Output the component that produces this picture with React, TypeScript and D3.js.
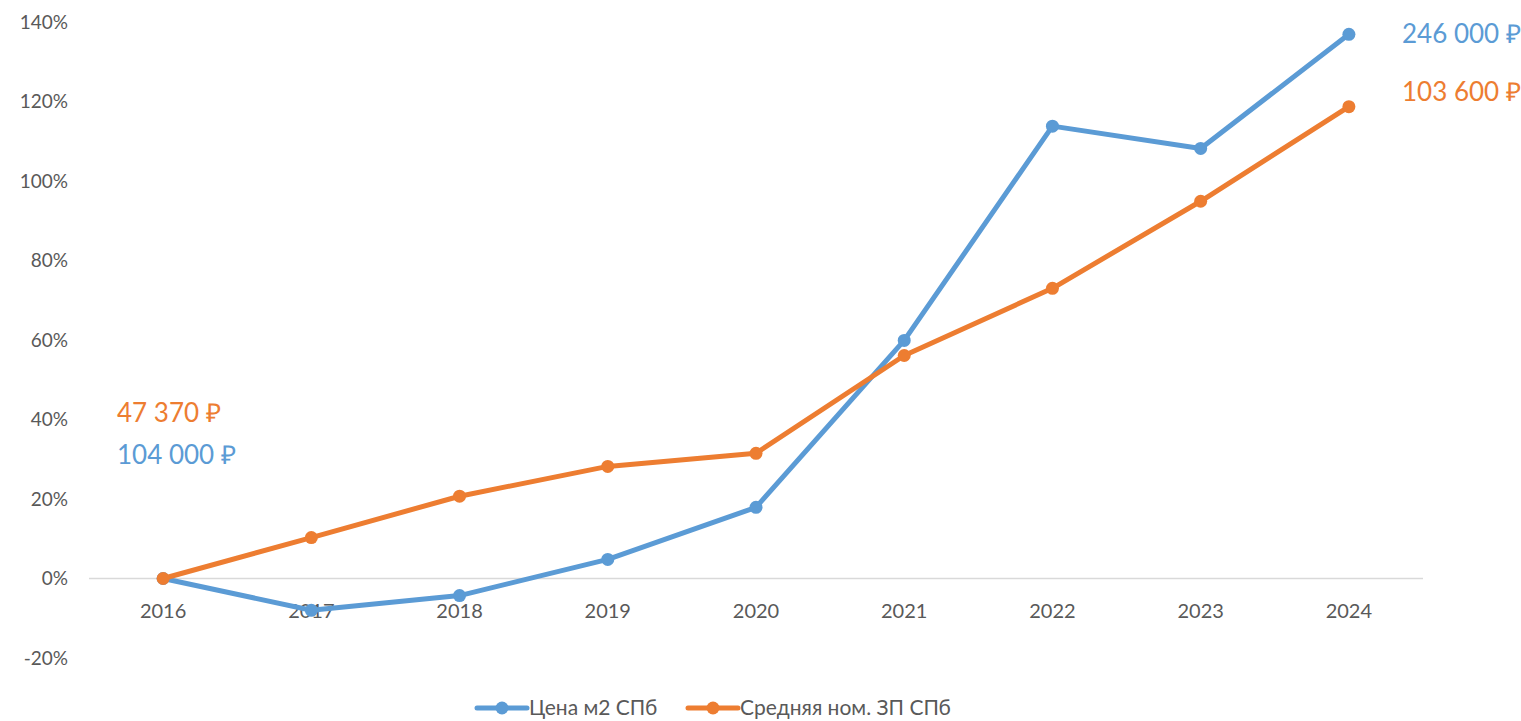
import React, { useRef, useEffect } from 'react';
import * as d3 from 'd3';

const years = ['2016', '2017', '2018', '2019', '2020', '2021', '2022', '2023', '2024'];
const priceGrowth = [0, -8.0, -4.3, 4.8, 17.9, 59.9, 113.8, 108.2, 136.9];
const salaryGrowth = [0, 10.3, 20.7, 28.2, 31.5, 56.1, 73.0, 94.9, 118.7];
const yTicks = [-20, 0, 20, 40, 60, 80, 100, 120, 140];
const seriesNames = ['Цена м2 СПб', 'Средняя ном. ЗП СПб'];
const colors = ['#5b9bd5', '#ed7d31'];
const startLabels = ['104 000 ₽', '47 370 ₽'];
const endLabels = ['246 000 ₽', '103 600 ₽'];

const W = 1521;
const H = 721;
const font = 'Lato, "Open Sans", sans-serif';

const App: React.FC = () => {
  const svgRef = useRef<SVGSVGElement | null>(null);

  useEffect(() => {
    const svg = d3.select(svgRef.current);
    svg.selectAll('*').remove();

    const x = d3.scaleBand<string>().domain(years).range([89, 1423]);
    const y = d3.scaleLinear().domain([-20, 140]).range([658, 22]);
    const cx = (d: string) => (x(d) as number) + x.bandwidth() / 2;

    // y tick labels
    svg.append('g')
      .selectAll('text')
      .data(yTicks)
      .join('text')
      .attr('x', 68)
      .attr('y', d => y(d))
      .attr('dy', '0.35em')
      .attr('text-anchor', 'end')
      .style('font-family', font)
      .style('font-size', '19px')
      .style('fill', '#595959')
      .text(d => `${d}%`);

    // zero line
    svg.append('line')
      .attr('x1', 89).attr('x2', 1423)
      .attr('y1', y(0)).attr('y2', y(0))
      .style('stroke', '#d9d9d9')
      .style('stroke-width', 1.5);

    // x labels
    svg.append('g')
      .selectAll('text')
      .data(years)
      .join('text')
      .attr('x', d => cx(d))
      .attr('y', y(0) + 32)
      .attr('dy', '0.35em')
      .attr('text-anchor', 'middle')
      .style('font-family', font)
      .style('font-size', '20px')
      .style('fill', '#595959')
      .text(d => d);

    const line = d3.line<number>()
      .x((_, i) => cx(years[i]))
      .y(d => y(d));

    [priceGrowth, salaryGrowth].forEach((s, k) => {
      svg.append('path')
        .datum(s)
        .attr('d', line)
        .style('fill', 'none')
        .style('stroke', colors[k])
        .style('stroke-width', 5)
        .style('stroke-linejoin', 'round')
        .style('stroke-linecap', 'round');
      svg.append('g')
        .selectAll('circle')
        .data(s)
        .join('circle')
        .attr('cx', (_, i) => cx(years[i]))
        .attr('cy', d => y(d))
        .attr('r', 6.5)
        .style('fill', colors[k]);
    });

    // value annotations
    const ann = (txt: string, ax: number, ay: number, c: string) =>
      svg.append('text')
        .attr('x', ax).attr('y', ay).attr('dy', '0.35em')
        .style('font-family', font)
        .style('font-size', '26px')
        .style('fill', c)
        .text(txt);
    ann(endLabels[0], 1402, 34, colors[0]);
    ann(endLabels[1], 1402, 92, colors[1]);
    ann(startLabels[1], 117, 413, colors[1]);
    ann(startLabels[0], 117, 455, colors[0]);

    // legend
    const legendX = [477, 688];
    seriesNames.forEach((n, k) => {
      const g = svg.append('g').attr('transform', `translate(${legendX[k]},708)`);
      g.append('line')
        .attr('x1', 0).attr('x2', 50).attr('y1', 0).attr('y2', 0)
        .style('stroke', colors[k]).style('stroke-width', 5)
        .style('stroke-linecap', 'round');
      g.append('circle').attr('cx', 25).attr('r', 6.5).style('fill', colors[k]);
      g.append('text')
        .attr('x', 52).attr('dy', '0.35em')
        .style('font-family', font)
        .style('font-size', '21px')
        .style('fill', '#595959')
        .text(n);
    });
  }, []);

  return (
    <svg
      ref={svgRef}
      width={W}
      height={H}
      style={{ position: 'absolute', left: 0, top: 0, background: '#fff' }}
    />
  );
};

export default App;
